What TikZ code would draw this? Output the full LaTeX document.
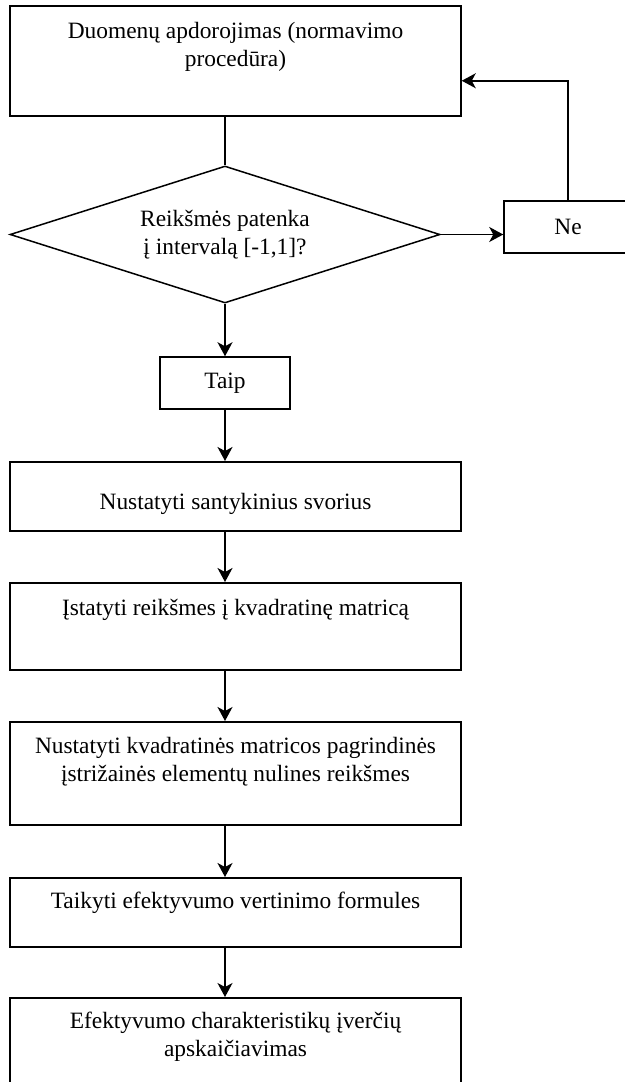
\documentclass[tikz,border=0pt]{standalone}
\usepackage{fontspec}
\setmainfont{Liberation Serif}
\usepackage{tikz}
\usetikzlibrary{shapes.geometric}
\usetikzlibrary{positioning}
\usetikzlibrary{calc}
\usetikzlibrary{arrows.meta}
\tikzset{every picture/.style={line width=0.75pt},
  blk/.style={draw,inner sep=0pt,minimum width=225.5pt,align=center,anchor=north},
  tag/.style={draw,inner sep=0pt,minimum height=26pt},
  >={Stealth[length=7pt,width=7.5pt,inset=2pt]}}

\begin{document}
\begin{tikzpicture}[x=0.5pt, y=-0.5pt, every node/.style={font=\fontsize{11.7pt}{14pt}\selectfont}]
\path[use as bounding box, clip] (0,0) rectangle (625,1082);
\node (dat) at (235.5,5) [blk,text height=30.5pt,text depth=24.5pt] {Duomenų apdorojimas (normavimo\\procedūra)};
\node (dec) at (225,234.5) [draw,diamond,aspect=3.14,minimum width=215pt,minimum height=68.5pt,inner sep=0pt,align=center] {Reikšmės patenka\\į intervalą [-1,1]?};
\node (ne) at (568,227) [tag,minimum width=64pt] {Ne};
\node (taip) at (225,383) [tag,minimum width=65pt] {Taip};
\node (sv) at (235.5,461) [blk,text height=24pt,text depth=10.5pt] {Nustatyti santykinius svorius};
\node (mat) at (235.5,582) [blk,text height=16.5pt,text depth=27pt] {Įstatyti reikšmes į kvadratinę matricą};
\node (diag) at (235.5,721) [blk,text height=30pt,text depth=21.5pt] {Nustatyti kvadratinės matricos pagrindinės\\įstrižainės elementų nulines reikšmes};
\node (form) at (235.5,877) [blk,text height=15.5pt,text depth=19pt] {Taikyti efektyvumo vertinimo formules};
\node (ivert) at (235.5,997) [blk,text height=29.5pt,text depth=26pt] {Efektyvumo charakteristikų įverčių\\apskaičiavimas};

\draw (dat.south -| dec.north) -- (dec.north);
\draw[->] (dec.east) -- (dec.east -| ne.west);
\draw[->] (ne.north) |- ([yshift=-10pt]dat.east);
\draw[->] (dec.south) -- (taip.north);
\draw[->] (taip.south) -- (taip.south |- sv.north);
\foreach \a/\b in {sv/mat, mat/diag, diag/form, form/ivert} {
\draw[->] (\a.south -| taip.south) -- (\b.north -| taip.south);
}
\end{tikzpicture}
\end{document}
